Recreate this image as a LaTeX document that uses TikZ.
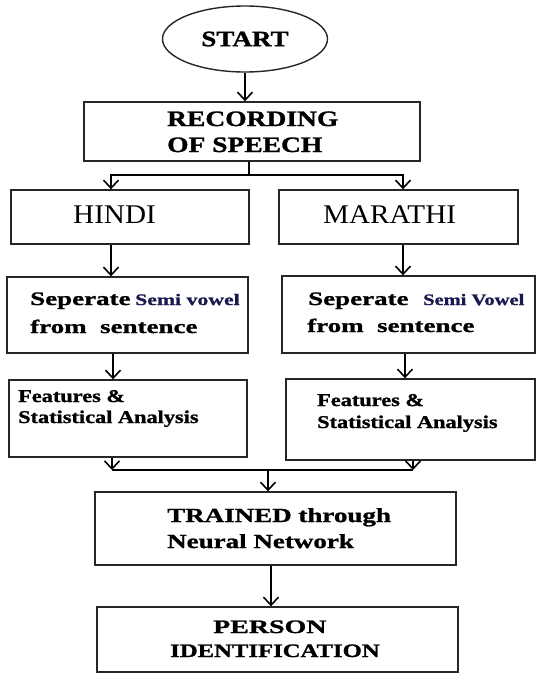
\documentclass[tikz,border=0pt]{standalone}
\usepackage{fontspec}
\setmainfont{Liberation Serif}
\usetikzlibrary{arrows.meta,shapes.geometric}
% size, horizontal stretch, text
\newcommand\stxt[3]{{\fontsize{#1}{#1}\selectfont\bfseries\addfontfeature{FakeStretch=#2,FakeBold=1.2}#3}}
\newcommand\rtxt[3]{{\fontsize{#1}{#1}\selectfont\addfontfeature{FakeStretch=#2}#3}}
\definecolor{navy}{RGB}{25,25,80}
\begin{document}
\begin{tikzpicture}[x=1pt,y=-1pt,
  box/.style={draw=black!85, line width=1.4pt, rectangle, inner sep=0pt},
  lbl/.style={anchor=base west, inner sep=0pt},
  link/.style={line width=2.2pt, black},
  arr/.style={link, -{Straight Barb[length=8pt,width=15pt,line width=1.6pt]}}]
\useasboundingbox (0,0) rectangle (536,673);

% boxes
\node[box, ellipse, minimum width=165pt, minimum height=66pt] (start) at (245,39) {\stxt{22}{1.23}{START}};
\node[box, minimum width=336pt, minimum height=59pt] (rec) at (252,131.5) {};
\node[box, minimum width=238pt, minimum height=54pt] (hindi) at (130,217) {};
\node[box, minimum width=239pt, minimum height=54pt] (marathi) at (398.5,217) {};
\node[box, minimum width=241pt, minimum height=76pt] (sepL) at (127.5,315) {};
\node[box, minimum width=253pt, minimum height=77pt] (sepR) at (408.5,314.5) {};
\node[box, minimum width=238pt, minimum height=77pt] (featL) at (128,418.5) {};
\node[box, minimum width=249pt, minimum height=81pt] (featR) at (410.5,419.5) {};
\node[box, minimum width=361pt, minimum height=73pt] (trained) at (275.5,528.5) {};
\node[box, minimum width=361pt, minimum height=65pt] (person) at (277.5,639.5) {};

% box texts
\node[lbl] (recA) at (167,126) {\stxt{22}{1.25}{RECORDING}};
\node[lbl] (recB) at (167,152) {\stxt{22}{1.25}{OF SPEECH}};
\node[lbl] (hinT) at (73,223) {\rtxt{27}{1.08}{HINDI}};
\node[lbl] (marT) at (323,223) {\rtxt{27}{1.08}{MARATHI}};
\node[lbl] (sepLa) at (30,305) {\stxt{19}{1.42}{Seperate}};
\node[lbl] (sepLb) at (135,305) {\color{navy}\stxt{16}{1.36}{Semi vowel}};
\node[lbl] (sepLc) at (30,333) {\stxt{19}{1.42}{from\ \ sentence}};
\node[lbl] (sepRa) at (308,305) {\stxt{19}{1.42}{Seperate}};
\node[lbl] (sepRb) at (423,305) {\color{navy}\stxt{16}{1.28}{Semi Vowel}};
\node[lbl] (sepRc) at (307,332) {\stxt{19}{1.42}{from\ \ sentence}};
\node[lbl] (featLa) at (18,402) {\stxt{18}{1.24}{Features \&}};
\node[lbl] (featLb) at (18,423) {\stxt{18}{1.24}{Statistical Analysis}};
\node[lbl] (featRa) at (317,406) {\stxt{18}{1.24}{Features \&}};
\node[lbl] (featRb) at (317,428) {\stxt{18}{1.24}{Statistical Analysis}};
\node[lbl] (trA) at (167,522) {\stxt{20}{1.35}{TRAINED through}};
\node[lbl] (trB) at (167,548) {\stxt{20}{1.35}{Neural Network}};
\node[lbl] (peA) at (213,633) {\stxt{19}{1.47}{PERSON}};
\node[lbl] (peB) at (170,657) {\stxt{19}{1.3}{IDENTIFICATION}};

% junction points
\coordinate (split) at (249,175);
\coordinate (merge) at (268,470);

% connectors
\draw[arr] (start.south) -- (start.south |- rec.north);
\draw[link] ([xshift=-3pt]rec.south) -- (split);
\draw[arr] (split) -| ([xshift=-19pt]hindi.north);
\draw[arr] (split) -| ([xshift=4.5pt]marathi.north);
\draw[arr] ([xshift=-19pt]hindi.south) -- ([xshift=-19pt]hindi.south |- sepL.north);
\draw[arr] ([xshift=4.5pt]marathi.south) -- ([xshift=4.5pt]marathi.south |- sepR.north);
\draw[arr] ([xshift=-14.5pt]sepL.south) -- ([xshift=-14.5pt]sepL.south |- featL.north);
\draw[arr] ([xshift=-3.5pt]sepR.south) -- ([xshift=-3.5pt]sepR.south |- featR.north);
\draw[arr] ([xshift=-16pt]featL.south) -- ([xshift=-16pt]featL.south |- merge);
\draw[arr] ([xshift=2.5pt]featR.south) -- ([xshift=2.5pt]featR.south |- merge);
\draw[link] ([xshift=-16pt]featL.south |- merge) -- ([xshift=2.5pt]featR.south |- merge);
\draw[arr] (merge) -- (merge |- trained.north);
\draw[arr] ([xshift=-4.5pt]trained.south) -- ([xshift=-4.5pt]trained.south |- person.north);
\end{tikzpicture}
\end{document}
